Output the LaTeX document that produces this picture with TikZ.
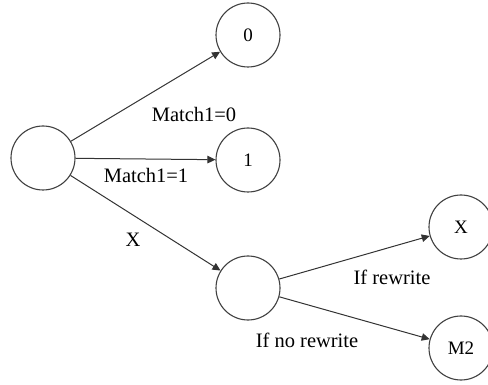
\documentclass[tikz,border=0pt]{standalone}
\usepackage{fontspec}
\setmainfont{Liberation Serif}
\usetikzlibrary{arrows.meta}
\begin{document}
\begin{tikzpicture}[x=1pt,y=-1pt,
  state/.style={circle,draw=black!75,line width=1.1pt,minimum size=64pt,inner sep=0pt,
    font=\fontsize{19}{22}\selectfont},
  edge/.style={draw=black!80,line width=1pt,-{Triangle[length=8pt,width=7.5pt]}},
  lbl/.style={font=\fontsize{20.5}{24}\selectfont,inner sep=0pt}]
\useasboundingbox (0,0) rectangle (488,385);
\clip (0,0) rectangle (488,385);
% states
\node[state] (s)  at (43,158) {};
\node[state] (z)  at (248,35)  {0};
\node[state] (o)  at (248,160) {1};
\node[state] (m)  at (248,288) {};
\node[state] (x)  at (461,227) {X};
\node[state] (m2) at (461,348) {M2};
% transitions
\draw[edge] (s) -- (z);
\draw[edge] (s) -- (o);
\draw[edge] (s) -- (m);
\draw[edge] (m) -- (x);
\draw[edge] (m) -- (m2);
% labels
\node[lbl] (l0) at (194,114) {Match1=0};
\node[lbl] (l1) at (146,175) {Match1=1};
\node[lbl] (lx) at (133,240) {X};
\node[lbl] (lr) at (392,277) {If rewrite};
\node[lbl] (ln) at (307,340) {If no rewrite};
\end{tikzpicture}
\end{document}
